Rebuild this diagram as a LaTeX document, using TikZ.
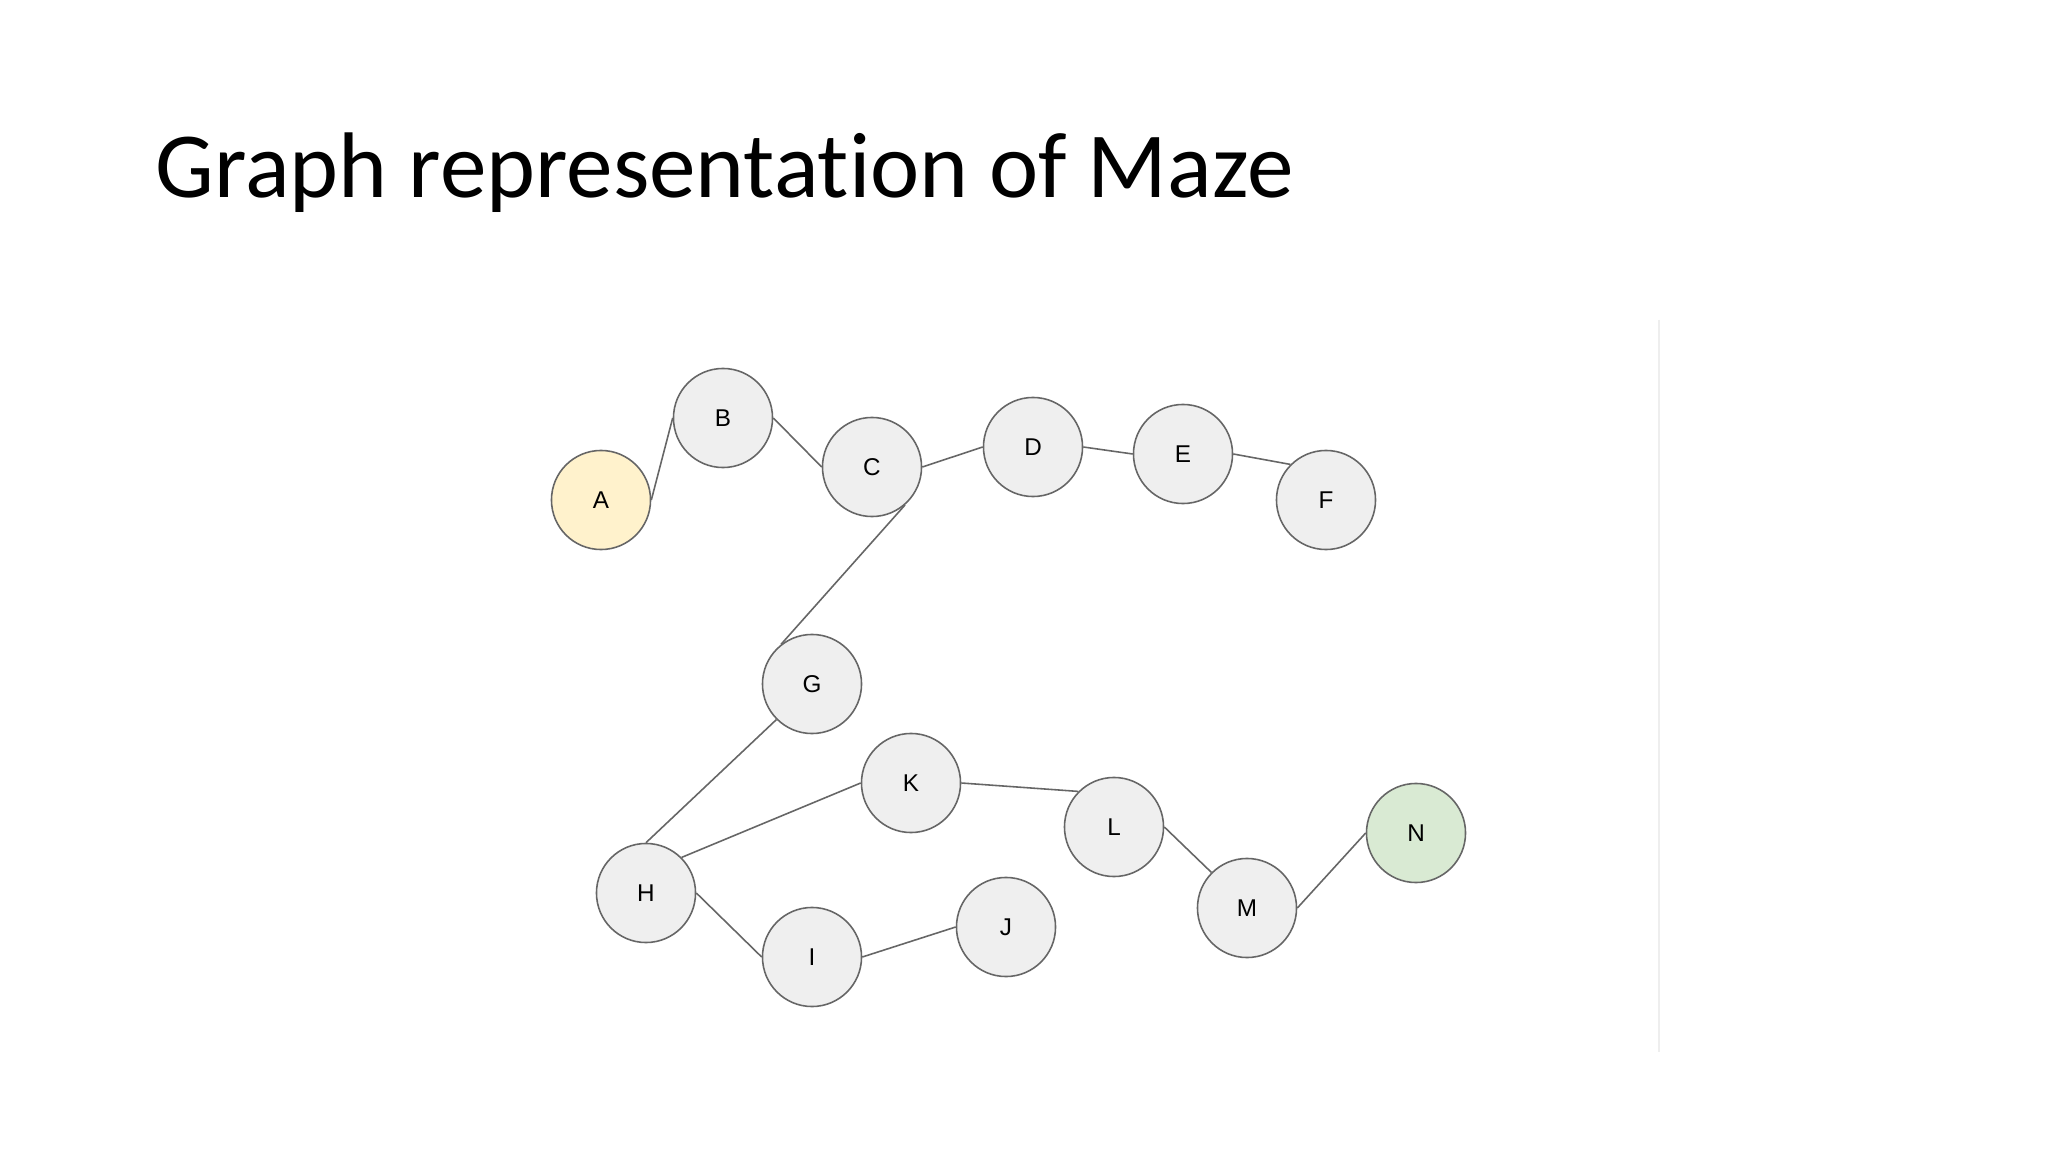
\documentclass[tikz,border=0pt]{standalone}
\usepackage{fontspec}
\setmainfont{Carlito}[Ligatures=NoCommon]
\newfontfamily\labelfont{Liberation Sans}
\definecolor{nodegray}{HTML}{EFEFEF}
\definecolor{edgegray}{HTML}{666666}
\definecolor{startyellow}{HTML}{FFF2CC}
\definecolor{goalgreen}{HTML}{D9EAD3}
\definecolor{sepgray}{HTML}{EEEEEE}
\tikzset{
  vertex/.style={circle, draw=edgegray, line width=0.45pt, fill=nodegray,
    minimum size=0.99cm, inner sep=0pt, font=\labelfont\fontsize{6.9pt}{8pt}\selectfont},
  startv/.style={vertex, fill=startyellow},
  goalv/.style={vertex, fill=goalgreen},
  link/.style={draw=edgegray, line width=0.45pt},
  titletext/.style={anchor=base west, inner sep=0pt, font=\fontsize{26.5pt}{30pt}\selectfont}
}
\begin{document}
\begin{tikzpicture}[x=0.01cm,y=-0.01cm]
\useasboundingbox (0,0) rectangle (2048,1152);
\fill[white] (0,0) rectangle (2048,1152);
\node[titletext] (title) at (155,198) {Graph representation of Maze};
\coordinate (septop) at (1659,320);
\coordinate (sepbot) at (1659,1052);
\draw[sepgray, line width=0.8pt] (septop) -- (sepbot);

\node[startv] (A) at (601,500) {A};
\node[vertex] (B) at (723,418) {B};
\node[vertex] (C) at (872,467) {C};
\node[vertex] (D) at (1033,447) {D};
\node[vertex] (E) at (1183,454) {E};
\node[vertex] (F) at (1326,500) {F};
\node[vertex] (G) at (812,684) {G};
\node[vertex] (K) at (911,783) {K};
\node[vertex] (L) at (1114,827) {L};
\node[vertex] (H) at (646,893) {H};
\node[vertex] (I) at (812,957) {I};
\node[vertex] (J) at (1006,927) {J};
\node[vertex] (M) at (1247,908) {M};
\node[goalv] (N) at (1416,833) {N};

\draw[link] (A.east) -- (B.west);
\draw[link] (B.east) -- (C.west);
\draw[link] (C.east) -- (D.west);
\draw[link] (D.east) -- (E.west);
\draw[link] (E.east) -- (F.135);
\draw[link] (C.-49) -- (G.128);
\draw[link] (G.225) -- (H.north);
\draw[link] (H.45) -- (K.west);
\draw[link] (K.east) -- (L.135);
\draw[link] (L.east) -- (M.135);
\draw[link] (M.east) -- (N.west);
\draw[link] (H.east) -- (I.west);
\draw[link] (I.east) -- (J.west);
\end{tikzpicture}
\end{document}
